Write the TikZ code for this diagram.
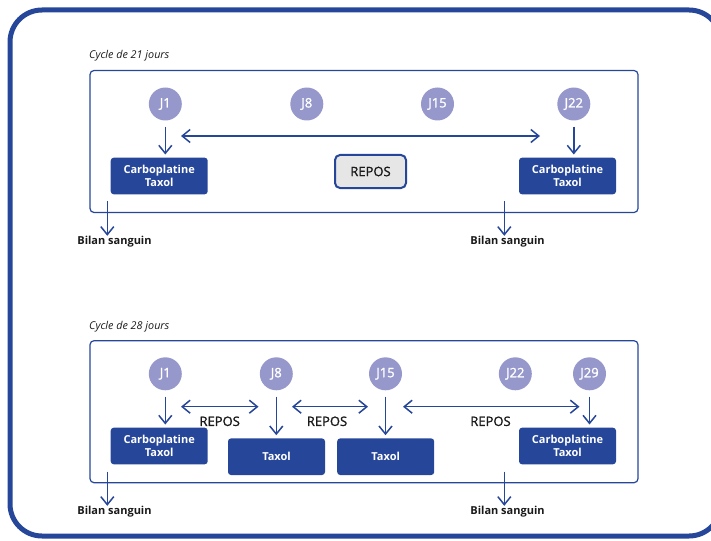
\documentclass[tikz,border=0pt]{standalone}
\usepackage{fontspec}
\setmainfont{Open Sans}
\newfontfamily\semifont{Open Sans}[FakeBold=1.5]
\usetikzlibrary{arrows.meta}

\definecolor{navy}{HTML}{26469A}
\definecolor{lilac}{HTML}{9698CB}
\definecolor{pale}{HTML}{E6E6E6}
\definecolor{ink}{HTML}{1A1A1A}

\tikzstyle{frame} = [draw=navy, line width=5pt, rounded corners=32pt]
\tikzstyle{cyclebox} = [draw=navy, line width=1.2pt, rounded corners=4pt]
\tikzstyle{cycletitle} = [anchor=west, inner sep=0pt, text=ink, font=\itshape\fontsize{10.8}{12}\selectfont]
\tikzstyle{day} = [circle, fill=lilac, minimum size=33pt, inner sep=0pt, text=white, font=\semifont\fontsize{13}{15}\selectfont]
\tikzstyle{treat} = [rectangle, rounded corners=3pt, fill=navy, text=white, align=center, minimum width=97pt, minimum height=36.6pt, inner sep=0pt, font=\bfseries\fontsize{11}{12.7}\selectfont]
\tikzstyle{rest} = [rectangle, rounded corners=5pt, draw=navy, line width=2pt, fill=pale, minimum width=71pt, minimum height=33pt, inner sep=0pt, text=ink, font=\semifont\fontsize{13}{15}\selectfont]
\tikzstyle{restlabel} = [inner sep=0pt, text=ink, font=\semifont\fontsize{13}{15}\selectfont]
\tikzstyle{bilan} = [inner sep=0pt, text=ink, font=\bfseries\fontsize{11}{12}\selectfont]
\tikzstyle{arrow} = [draw=navy, line width=1.5pt, -{Straight Barb[length=8pt,width=13pt]}]
\tikzstyle{twoway} = [draw=navy, line width=1.5pt, {Straight Barb[length=8pt,width=13pt]}-{Straight Barb[length=8pt,width=13pt]}]

\begin{document}
\begin{tikzpicture}[x=1pt, y=-1pt]
    \useasboundingbox (0,0) rectangle (711,540);
    \draw [frame] (10,10) rectangle (721,536);

    % cycle de 21 jours
    \node (title21) [cycletitle] at (89,56) {Cycle de 21 jours};
    \draw [cyclebox] (90,70.5) rectangle (638,212.5);

    \node (d21a) [day] at (165.3,104) {J1};
    \node (d21b) [day] at (306.8,104) {J8};
    \node (d21c) [day] at (437.5,104) {J15};
    \node (d21d) [day] at (573.8,104) {J22};

    \node (carbo21a) [treat] at (159.2,176) {Carboplatine\\Taxol};
    \node (rest21) [rest] at (370.5,171.5) {REPOS};
    \node (carbo21b) [treat] at (567.5,176) {Carboplatine\\Taxol};

    \draw [arrow, shorten <=6pt, shorten >=3pt] (d21a.south) -- (d21a.south |- carbo21a.north);
    \draw [arrow, shorten <=6pt, shorten >=3pt] (d21d.south) -- (d21d.south |- carbo21b.north);

    \coordinate (rest21l) at (181,136);
    \coordinate (rest21r) at (540,136);
    \draw [twoway] (rest21l) -- (rest21r);

    \node (bilan21a) [bilan] at (114.5,241.5) {Bilan sanguin};
    \node (bilan21b) [bilan] at (507.5,241.5) {Bilan sanguin};
    \coordinate (out21a) at (107.3,201);
    \coordinate (out21b) at (504.3,201);
    \draw [arrow] (out21a) -- (out21a |- bilan21a.north) ;
    \draw [arrow] (out21b) -- (out21b |- bilan21b.north) ;

    % cycle de 28 jours
    \node (title28) [cycletitle] at (89,326.5) {Cycle de 28 jours};
    \draw [cyclebox] (90,340.7) rectangle (638,482.7);

    \node (d28a) [day] at (165.3,373.8) {J1};
    \node (d28b) [day] at (276.3,373.8) {J8};
    \node (d28c) [day] at (385.5,373.8) {J15};
    \node (d28d) [day] at (515.3,373.8) {J22};
    \node (d28e) [day] at (589.5,373.8) {J29};

    \node (carbo28a) [treat] at (159.2,446) {Carboplatine\\Taxol};
    \node (taxol28a) [treat] at (276.5,456.7) {Taxol};
    \node (taxol28b) [treat] at (385.7,456.7) {Taxol};
    \node (carbo28b) [treat] at (567.5,446) {Carboplatine\\Taxol};

    \draw [arrow, shorten <=6pt, shorten >=3pt] (d28a.south) -- (d28a.south |- carbo28a.north);
    \draw [arrow, shorten <=6pt, shorten >=3pt] (d28b.south) -- (d28b.south |- taxol28a.north);
    \draw [arrow, shorten <=6pt, shorten >=3pt] (d28c.south) -- (d28c.south |- taxol28b.north);
    \draw [arrow, shorten <=6pt, shorten >=3pt] (d28e.south) -- (d28e.south |- carbo28b.north);

    \coordinate (rest28a) at (181,406.7);
    \coordinate (rest28b) at (258.5,406.7);
    \coordinate (rest28c) at (292,406.7);
    \coordinate (rest28d) at (368,406.7);
    \coordinate (rest28e) at (403,406.7);
    \coordinate (rest28f) at (579.5,406.7);
    \draw [twoway] (rest28a) -- (rest28b);
    \draw [twoway] (rest28c) -- (rest28d);
    \draw [twoway] (rest28e) -- (rest28f);

    \node (repos28a) [restlabel] at (219.7,421.3) {REPOS};
    \node (repos28b) [restlabel] at (327,421.3) {REPOS};
    \node (repos28c) [restlabel] at (490.5,421.3) {REPOS};

    \node (bilan28a) [bilan] at (114.5,511.5) {Bilan sanguin};
    \node (bilan28b) [bilan] at (507.5,511.5) {Bilan sanguin};
    \coordinate (out28a) at (107.3,471.7);
    \coordinate (out28b) at (504.3,471.7);
    \draw [arrow] (out28a) -- (out28a |- bilan28a.north) ;
    \draw [arrow] (out28b) -- (out28b |- bilan28b.north) ;

\end{tikzpicture}
\end{document}
